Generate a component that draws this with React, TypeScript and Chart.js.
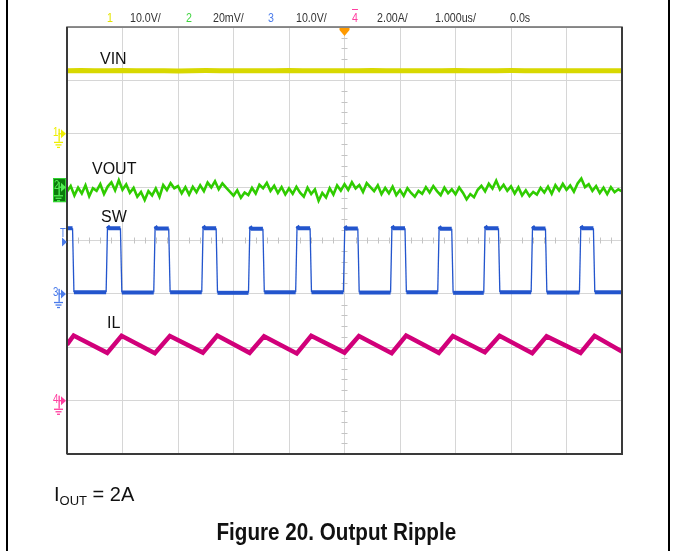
import { useEffect, useRef } from "react";
import { Chart, registerables } from "chart.js";

Chart.register(...registerables);

// ---------- scope settings ----------
const timeMinUs = -5;
const timeMaxUs = 5;
const divMin = -4;
const divMax = 4;

const ch1VoltsPerDiv = 10; // VIN
const ch2MilliVoltsPerDiv = 20; // VOUT
const ch3VoltsPerDiv = 10; // SW
const ch4AmpsPerDiv = 2; // IL

const ch1GroundDiv = 2;
const ch2GroundDiv = 1;
const ch3GroundDiv = -1;
const ch4GroundDiv = -3;
const triggerLevelDiv = -0.03;

const headerLabels = ["1", "10.0V/", "2", "20mV/", "3", "10.0V/", "4", "2.00A/", "1.000us/", "0.0s"];
const traceNames = ["VIN", "VOUT", "SW", "IL"];

// ---------- VIN (V), sampled every 0.25 us ----------
const vinStepUs = 0.25;
const vinVolts = [
  11.8, 11.83, 11.78, 11.81, 11.84, 11.79, 11.82, 11.8, 11.77, 11.81, 11.83, 11.8, 11.78, 11.82,
  11.81, 11.79, 11.84, 11.8, 11.81, 11.78, 11.82, 11.8, 11.83, 11.79, 11.81, 11.8, 11.78, 11.82,
  11.84, 11.8, 11.79, 11.81, 11.83, 11.8, 11.78, 11.81, 11.82, 11.79, 11.81, 11.8, 11.82,
];

// ---------- VOUT ripple (mV), sampled every 1/15 us ----------
const voutStepUs = 1 / 15;
const voutMilliVolts = [
  -1.6, 0.4, -3.1, -0.2, -2.4, 0.7, -3.4, -0.4, -1.4, 1.1, -2.6, 0.2, 1.8, -1.2, 2.6,
  -1.0, 1.0, -2.1, -0.3, -3.6, -1.8, -4.8, -1.5, -3.1, -0.5, -3.6, 0.8, -1.1, 1.5, -0.4,
  0.4, -2.3, 0.0, -2.8, 0.1, -1.9, 0.7, -1.5, 1.7, -0.1, 2.2, -0.8, 1.4, -0.2, -1.7,
  -3.2, -1.2, -4.0, -2.0, -3.0, -0.3, -2.4, 0.9, -0.4, 1.6, -1.4, 0.5, -2.2, 0.0, -2.7,
  -0.5, -2.5, 0.1, -2.1, -3.6, -0.2, -2.6, -0.9, -5.1, -2.2, -3.9, -0.4, -2.8, 0.6, -1.3,
  1.1, -1.0, 1.8, -0.5, 0.8, -1.8, 1.5, 0.0, -1.5, 0.7, -2.6, -0.3, -2.3, 0.2, -3.0,
  -1.1, -3.3, -0.4, -2.2, -3.6, -1.4, -2.5, 0.0, -2.0, 0.4, -1.5, -3.0, -0.2, -2.3, -0.8,
  -2.7, -0.1, -2.1, -4.6, -2.6, -3.8, -1.0, 0.5, -1.6, 1.3, -0.5, 2.4, -0.9, 0.9, -1.4,
  0.3, -2.4, -0.1, -3.1, -1.2, -3.4, -1.8, -2.8, -0.3, -2.0, 0.2, -2.5, 0.7, -1.3, 1.2,
  -1.0, 0.6, -1.7, 1.4, 3.2, 0.0, 1.1, -1.4, 0.4, -2.2, -0.2, -2.6, 0.0, -1.9, -0.8,
  -1.6,
];

// ---------- SW node (V): edges in us ----------
const swStartHighVolts = 12.3;
const swFirstFallUs = -4.89;
const swRiseUs = [-4.285, -3.427, -2.562, -1.72, -0.87, -0.01, 0.84, 1.69, 2.519, 3.373, 4.243];
const swFallUs = [-4.027, -3.157, -2.303, -1.46, -0.61, 0.25, 1.1, 1.942, 2.784, 3.631, 4.495];
const swHighVolts = [12.3, 12.25, 12.3, 12.2, 12.3, 12.25, 12.3, 12.2, 12.3, 12.25, 12.3];
const swLowVolts = [0.3, 0.25, 0.3, 0.2, 0.3, 0.3, 0.25, 0.3, 0.2, 0.3, 0.25, 0.3];

// ---------- inductor current (A) ----------
const ilStartAmps = 2.1;
const ilFirstPeakAmps = 2.44;
const ilEndAmps = 1.84;
const ilTroughAmps = [1.79, 1.78, 1.8, 1.79, 1.77, 1.8, 1.78, 1.79, 1.81, 1.78, 1.79];
const ilPeakAmps = [2.43, 2.42, 2.44, 2.41, 2.43, 2.42, 2.44, 2.42, 2.43, 2.41, 2.43];

// ---------- layout ----------
const W = 673;
const H = 551;
const plotL = 67;
const plotR = 622;
const plotT = 27;
const plotB = 454;
const divPx = (plotB - plotT) / (divMax - divMin);
const yOfDiv = (d: number) => plotT + (divMax - d) * divPx;

const C_YEL = "#d8d800";
const C_GRN = "#2fcc00";
const C_BLU = "#2355cd";
const C_PNK = "#d1007a";

function buildSampled(values: number[], stepUs: number, scale: number, ground: number) {
  return values.map((v, i) => ({ x: timeMinUs + i * stepUs, y: ground + v / scale }));
}

function buildSw() {
  const g = ch3GroundDiv;
  const s = ch3VoltsPerDiv;
  const pts: { x: number; y: number }[] = [];
  pts.push({ x: timeMinUs, y: g + swStartHighVolts / s });
  pts.push({ x: swFirstFallUs - 0.01, y: g + swStartHighVolts / s });
  pts.push({ x: swFirstFallUs + 0.015, y: g + swLowVolts[0] / s });
  for (let k = 0; k < swRiseUs.length; k++) {
    pts.push({ x: swRiseUs[k] - 0.01, y: g + swLowVolts[k] / s });
    pts.push({ x: swRiseUs[k] + 0.015, y: g + (swHighVolts[k] + 0.4) / s });
    pts.push({ x: swRiseUs[k] + 0.05, y: g + swHighVolts[k] / s });
    pts.push({ x: swFallUs[k] - 0.01, y: g + swHighVolts[k] / s });
    pts.push({ x: swFallUs[k] + 0.015, y: g + swLowVolts[k + 1] / s });
  }
  pts.push({ x: timeMaxUs, y: g + swLowVolts[swLowVolts.length - 1] / s });
  return pts;
}

function buildIl() {
  const g = ch4GroundDiv;
  const s = ch4AmpsPerDiv;
  const pts: { x: number; y: number }[] = [];
  pts.push({ x: timeMinUs, y: g + ilStartAmps / s });
  pts.push({ x: swFirstFallUs + 0.01, y: g + ilFirstPeakAmps / s });
  for (let k = 0; k < swRiseUs.length; k++) {
    pts.push({ x: swRiseUs[k] + 0.01, y: g + ilTroughAmps[k] / s });
    pts.push({ x: swFallUs[k] + 0.01, y: g + ilPeakAmps[k] / s });
  }
  pts.push({ x: timeMaxUs, y: g + ilEndAmps / s });
  return pts;
}

const scopeDecor = {
  id: "scopeDecor",
  beforeDatasetsDraw(chart: any) {
    const { ctx, scales } = chart;
    const xs = scales.x;
    const ys = scales.y;
    const x0 = xs.getPixelForValue(0);
    const y0 = ys.getPixelForValue(0);
    ctx.save();
    ctx.strokeStyle = "#c4c4c4";
    ctx.lineWidth = 1;
    ctx.beginPath();
    for (let i = divMin * 5; i <= divMax * 5; i++) {
      if (i % 5 === 0) continue;
      const y = Math.round(ys.getPixelForValue(i / 5)) + 0.5;
      ctx.moveTo(x0 - 3, y);
      ctx.lineTo(x0 + 3, y);
    }
    for (let i = timeMinUs * 5; i <= timeMaxUs * 5; i++) {
      if (i % 5 === 0) continue;
      const x = Math.round(xs.getPixelForValue(i / 5)) + 0.5;
      ctx.moveTo(x, y0 - 3);
      ctx.lineTo(x, y0 + 3);
    }
    ctx.stroke();
    ctx.restore();
  },
  afterDatasetsDraw(chart: any) {
    const { ctx, chartArea, scales } = chart;
    const { left, right, top, bottom } = chartArea;
    ctx.save();
    // frame
    ctx.strokeStyle = "#6a6a6a";
    ctx.lineWidth = 1.5;
    ctx.strokeRect(left, top, right - left, bottom - top);
    ctx.strokeStyle = "#3a3a3a";
    ctx.lineWidth = 2;
    ctx.beginPath();
    ctx.moveTo(left, bottom);
    ctx.lineTo(right, bottom);
    ctx.lineTo(right, top);
    ctx.moveTo(left, top);
    ctx.lineTo(left, bottom);
    ctx.stroke();

    // trigger position marker
    const xt = scales.x.getPixelForValue(0);
    ctx.fillStyle = "#ff9a00";
    ctx.beginPath();
    ctx.moveTo(xt - 5, top + 1);
    ctx.lineTo(xt + 5, top + 1);
    ctx.lineTo(xt + 5, top + 3);
    ctx.lineTo(xt, top + 9);
    ctx.lineTo(xt - 5, top + 3);
    ctx.closePath();
    ctx.fill();

    const marker = (div: number, color: string) => {
      const y = scales.y.getPixelForValue(div);
      ctx.fillStyle = color;
      ctx.beginPath();
      ctx.moveTo(left - 6, y - 4.5);
      ctx.lineTo(left - 6, y + 4.5);
      ctx.lineTo(left - 1, y);
      ctx.closePath();
      ctx.fill();
      ctx.fillRect(left - 8.5, y - 5, 1.3, 13);
      ctx.fillRect(left - 8.5, y - 0.6, 3, 1.3);
      ctx.fillRect(left - 13, y + 8, 9, 1.3);
      ctx.fillRect(left - 11.5, y + 10.5, 6, 1.3);
      ctx.fillRect(left - 10, y + 13, 3, 1.3);
    };
    marker(ch1GroundDiv, "#eeee00");
    // channel 2 boxed marker
    const y2 = scales.y.getPixelForValue(ch2GroundDiv);
    ctx.fillStyle = "#0b7a0b";
    ctx.fillRect(left - 14, y2 - 9, 13, 24);
    ctx.strokeStyle = "#33dd33";
    ctx.lineWidth = 1;
    ctx.strokeRect(left - 13.5, y2 - 8.5, 12, 23);
    marker(ch2GroundDiv, "#55ee55");
    marker(ch3GroundDiv, "#4a7bea");
    marker(ch4GroundDiv, "#ff3fa0");
    // trigger level arrow
    const yl = scales.y.getPixelForValue(triggerLevelDiv);
    ctx.fillStyle = "#4a7bea";
    ctx.beginPath();
    ctx.moveTo(left - 5, yl - 4.5);
    ctx.lineTo(left - 5, yl + 4.5);
    ctx.lineTo(left, yl);
    ctx.closePath();
    ctx.fill();
    ctx.restore();
  },
};

const headerLayout = [
  { x: 107, color: "#e4e400" },
  { x: 130, color: "#333" },
  { x: 186, color: "#3fd43f" },
  { x: 213, color: "#333" },
  { x: 268, color: "#4a7bea" },
  { x: 296, color: "#333" },
  { x: 352, color: "#ff3fa0", over: true },
  { x: 377, color: "#333" },
  { x: 435, color: "#333" },
  { x: 510, color: "#333" },
];

const traceLabelLayout = [
  { x: 100, capTop: 53 },
  { x: 92, capTop: 163 },
  { x: 101, capTop: 211 },
  { x: 107, capTop: 317 },
];

export default function App() {
  const ref = useRef<HTMLCanvasElement | null>(null);

  useEffect(() => {
    if (!ref.current) return;
    const vinPts = buildSampled(vinVolts, vinStepUs, ch1VoltsPerDiv, ch1GroundDiv);
    const chart = new Chart(ref.current, {
      type: "line",
      data: {
        datasets: [
          {
            label: "VIN",
            data: vinPts,
            borderColor: C_YEL,
            borderWidth: 5,
            pointRadius: 0,
            tension: 0,
          },
          {
            label: "VIN core",
            data: vinPts,
            borderColor: "#9c9c10",
            borderWidth: 1,
            pointRadius: 0,
            tension: 0,
          },
          {
            label: "VOUT",
            data: buildSampled(voutMilliVolts, voutStepUs, ch2MilliVoltsPerDiv, ch2GroundDiv),
            borderColor: C_GRN,
            borderWidth: 2.6,
            pointRadius: 0,
            tension: 0,
          },
          {
            label: "SW",
            data: buildSw(),
            borderColor: C_BLU,
            borderWidth: 4,
            pointRadius: 0,
            tension: 0,
            segment: {
              borderWidth: (c: any) => (Math.abs(c.p0.y - c.p1.y) > 8 ? 1.3 : 4),
            },
          },
          {
            label: "IL",
            data: buildIl(),
            borderColor: C_PNK,
            borderWidth: 4.5,
            pointRadius: 0,
            tension: 0,
          },
        ] as any,
      },
      options: {
        responsive: false,
        animation: false,
        devicePixelRatio: 1,
        layout: { padding: { left: plotL, right: W - plotR, top: plotT, bottom: H - plotB } },
        plugins: { legend: { display: false }, tooltip: { enabled: false } },
        scales: {
          x: {
            type: "linear",
            min: timeMinUs,
            max: timeMaxUs,
            ticks: { display: false, stepSize: 1 },
            grid: { color: "#d6d6d6", lineWidth: 1, drawTicks: false },
            border: { display: false },
          },
          y: {
            type: "linear",
            min: divMin,
            max: divMax,
            ticks: { display: false, stepSize: 1 },
            grid: { color: "#d6d6d6", lineWidth: 1, drawTicks: false },
            border: { display: false },
          },
        },
      },
      plugins: [scopeDecor],
    });
    return () => chart.destroy();
  }, []);

  const sans = '"Liberation Sans", Arial, Helvetica, sans-serif';
  const abs = (o: any) => ({ position: "absolute" as const, whiteSpace: "nowrap" as const, ...o });

  return (
    <div style={{ position: "absolute", left: 0, top: 0, width: W, height: H, background: "#fff", overflow: "hidden", fontFamily: sans }}>
      <canvas ref={ref} width={W} height={H} style={{ position: "absolute", left: 0, top: 0 }} />
      <div style={abs({ left: 6, top: 0, width: 2, height: H, background: "#000" })} />
      <div style={abs({ left: 668, top: 0, width: 2, height: H, background: "#000" })} />
      {headerLabels.map((t, i) => (
        <span
          key={i}
          style={abs({
            left: headerLayout[i].x,
            top: 11,
            fontSize: 13,
            lineHeight: "13px",
            color: headerLayout[i].color,
            transform: "scaleX(0.82)",
            transformOrigin: "left top",
            textDecoration: headerLayout[i].over ? "overline" : "none",
          })}
        >
          {t}
        </span>
      ))}
      {traceNames.map((t, i) => (
        <span
          key={t}
          style={abs({ left: traceLabelLayout[i].x, top: traceLabelLayout[i].capTop - 2, fontSize: 16, lineHeight: "16px", color: "#111" })}
        >
          {t}
        </span>
      ))}
      <span style={abs({ left: 53, top: yOfDiv(ch1GroundDiv) - 8, fontSize: 12, lineHeight: "12px", color: "#eeee00", transform: "scaleX(0.8)", transformOrigin: "left top" })}>1</span>
      <span style={abs({ left: 54, top: yOfDiv(ch2GroundDiv) - 8, fontSize: 12, lineHeight: "12px", color: "#55ee55", transform: "scaleX(0.8)", transformOrigin: "left top" })}>2</span>
      <span style={abs({ left: 60, top: yOfDiv(triggerLevelDiv) - 15, fontSize: 12, lineHeight: "12px", color: "#4a7bea", transform: "scaleX(0.8)", transformOrigin: "left top" })}>T</span>
      <span style={abs({ left: 53, top: yOfDiv(ch3GroundDiv) - 8, fontSize: 12, lineHeight: "12px", color: "#4a7bea", transform: "scaleX(0.8)", transformOrigin: "left top" })}>3</span>
      <span style={abs({ left: 53, top: yOfDiv(ch4GroundDiv) - 8, fontSize: 12, lineHeight: "12px", color: "#ff3fa0", transform: "scaleX(0.8)", transformOrigin: "left top" })}>4</span>
      <div style={abs({ left: 54, top: 484, fontSize: 20, lineHeight: "20px", color: "#111" })}>
        I<span style={{ fontSize: 13, position: "relative", top: 4 }}>OUT</span> = 2A
      </div>
      <div style={abs({ left: 0, top: 520, width: W, textAlign: "center", lineHeight: "24px" })}>
        <span style={{ display: "inline-block", fontSize: 24, fontWeight: "bold", color: "#111", transform: "scaleX(0.86)", transformOrigin: "center top" }}>
          Figure 20. Output Ripple
        </span>
      </div>
    </div>
  );
}
